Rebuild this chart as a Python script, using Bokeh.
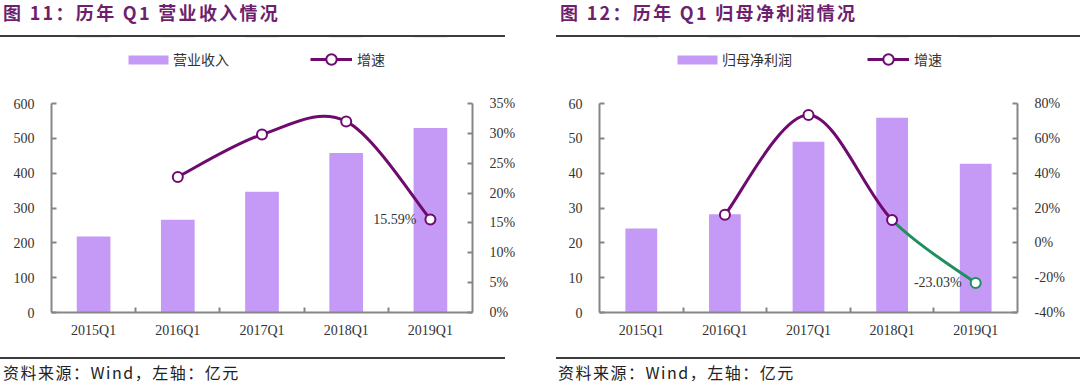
from bokeh.plotting import figure
from bokeh.models import (Range1d, LinearAxis, SingleIntervalTicker, FixedTicker,
                          PrintfTickFormatter, Legend, LegendItem, Div, ColumnDataSource)
from bokeh.layouts import row, column
from bokeh.core.properties import value
from bokeh.embed import file_html
from bokeh.resources import INLINE

# ---------------- data ----------------
quarters = ["2015Q1", "2016Q1", "2017Q1", "2018Q1", "2019Q1"]
revenue = [218, 266, 347, 458, 530]                 # 营业收入 (亿元)
revenue_growth = [None, 22.7, 29.8, 32.0, 15.59]    # 增速 (%)
profit = [24.1, 28.2, 49.0, 55.9, 42.7]             # 归母净利润 (亿元)
profit_growth = [None, 16.1, 73.4, 13.1, -23.03]    # 增速 (%)

# ---------------- styles ----------------
BAR = "#C49AF6"
PURPLE = "#6f0a6f"
GREEN = "#1f8f5f"
AXIS = "#868686"
TXT = "#333333"
TITLE_C = "#6e1f6e"
RULE = "#3c3c3c"
SERIF = "Liberation Serif"
CJK = "Noto Sans CJK SC"
PANEL_W = 540


def smooth_segments(ys):
    pts = [(i, y) for i, y in enumerate(ys) if y is not None]
    n = len(pts)
    seg = dict(x0=[], y0=[], x1=[], y1=[], cx0=[], cy0=[], cx1=[], cy1=[])
    for i in range(n - 1):
        p0 = pts[max(i - 1, 0)]
        p1 = pts[i]
        p2 = pts[i + 1]
        p3 = pts[min(i + 2, n - 1)]
        seg["x0"].append(p1[0]); seg["y0"].append(p1[1])
        seg["x1"].append(p2[0]); seg["y1"].append(p2[1])
        seg["cx0"].append(p1[0] + (p2[0] - p0[0]) / 6.0)
        seg["cy0"].append(p1[1] + (p2[1] - p0[1]) / 6.0)
        seg["cx1"].append(p2[0] - (p3[0] - p1[0]) / 6.0)
        seg["cy1"].append(p2[1] - (p3[1] - p1[1]) / 6.0)
    return seg


def slice_seg(seg, a, b):
    return {k: v[a:b] for k, v in seg.items()}


def style_axis(ax):
    ax.axis_line_color = AXIS
    ax.axis_line_width = 2
    ax.major_tick_line_color = AXIS
    ax.major_tick_line_width = 2
    ax.major_tick_in = 5
    ax.major_tick_out = 0
    ax.minor_tick_line_color = None
    ax.major_label_text_font = SERIF
    ax.major_label_text_font_size = "14px"
    ax.major_label_text_color = TXT
    ax.major_label_standoff = 13


def make_fig(bars, growth, y_end, y_step, g_start, g_end, g_step, bar_w,
             border_l, border_r, green_last):
    n = len(quarters)
    p = figure(width=PANEL_W, height=272, x_range=Range1d(-0.5, n - 0.5),
               y_range=Range1d(0, y_end), output_backend="svg",
               toolbar_location=None, min_border_left=border_l,
               min_border_right=border_r, min_border_top=18,
               min_border_bottom=45, outline_line_color=None,
               background_fill_color="white", border_fill_color="white")
    p.extra_y_ranges = {"g": Range1d(g_start, g_end)}
    p.xgrid.visible = False
    p.ygrid.visible = False

    yax = p.yaxis[0]
    yax.ticker = SingleIntervalTicker(interval=y_step)
    style_axis(yax)
    rax = LinearAxis(y_range_name="g", ticker=SingleIntervalTicker(interval=g_step),
                     formatter=PrintfTickFormatter(format="%d%%"))
    style_axis(rax)
    p.add_layout(rax, "right")
    xax = p.xaxis[0]
    style_axis(xax)
    xax.ticker = FixedTicker(ticks=list(range(n)),
                             minor_ticks=[i + 0.5 for i in range(n - 1)])
    xax.major_tick_line_color = None
    xax.minor_tick_line_color = AXIS
    xax.minor_tick_line_width = 2
    xax.minor_tick_in = 5
    xax.minor_tick_out = 0
    xax.major_label_overrides = {i: q for i, q in enumerate(quarters)}
    xax.major_label_standoff = 10

    src = ColumnDataSource(dict(x=list(range(n)), top=bars))
    p.vbar(x="x", top="top", width=bar_w, bottom=0, source=src,
           fill_color=BAR, line_color=None)

    seg = smooth_segments(growth)
    gx = [i for i, g in enumerate(growth) if g is not None]
    gy = [g for g in growth if g is not None]
    ns = len(seg["x0"])
    if green_last:
        p.bezier(**slice_seg(seg, 0, ns - 1), line_color=PURPLE,
                 line_width=3, y_range_name="g")
        p.bezier(**slice_seg(seg, ns - 1, ns), line_color=GREEN,
                 line_width=3, y_range_name="g")
        p.scatter(x=gx[:-1], y=gy[:-1], size=10, fill_color="white",
                  line_color=PURPLE, line_width=2, y_range_name="g")
        p.scatter(x=gx[-1:], y=gy[-1:], size=10, fill_color="white",
                  line_color=GREEN, line_width=2, y_range_name="g")
    else:
        p.bezier(**seg, line_color=PURPLE, line_width=3, y_range_name="g")
        p.scatter(x=gx, y=gy, size=10, fill_color="white",
                  line_color=PURPLE, line_width=2, y_range_name="g")

    p.text(x=gx[-1:], y=gy[-1:], text=[f"{gy[-1]:.2f}%"], y_range_name="g",
           text_align="right", text_baseline="middle", x_offset=-14,
           text_font=value(SERIF), text_font_size="14px", text_color=TXT)
    return p


def legend_fig(bars, growth, bar_label, leg1_x, leg2_x):
    """Legend strip; its renderers carry the series but sit outside the
    visible (offscreen) y range, so only the legend glyphs show."""
    h = 48
    n = len(quarters)
    p = figure(width=PANEL_W, height=h, x_range=Range1d(-0.5, n - 0.5),
               y_range=Range1d(-2000, -1952), output_backend="svg",
               toolbar_location=None, min_border=0, x_axis_type=None,
               y_axis_type=None, outline_line_color=None,
               background_fill_color="white", border_fill_color="white")
    p.xgrid.visible = False
    p.ygrid.visible = False
    gx = [i for i, g in enumerate(growth) if g is not None]
    gy = [g for g in growth if g is not None]
    bar_r = p.vbar(x=list(range(n)), top=bars, width=0.4, fill_color=BAR,
                   line_color=None)
    line_r = p.line(x=gx, y=gy, line_color=PURPLE, line_width=3)
    sc_r = p.scatter(x=gx, y=gy, fill_color="white", line_color=PURPLE,
                     line_width=2)
    common = dict(orientation="horizontal", label_height=11, padding=0,
                  margin=0, spacing=0, border_line_color=None,
                  background_fill_alpha=0, label_text_font=CJK,
                  label_text_font_size="14px", label_text_color=TXT)
    leg1 = Legend(items=[LegendItem(label=bar_label, renderers=[bar_r])],
                  location=(leg1_x, 16), glyph_width=50, glyph_height=11,
                  label_standoff=0, **common)
    leg2 = Legend(items=[LegendItem(label="增速", renderers=[line_r, sc_r])],
                  location=(leg2_x, 13), glyph_width=42, glyph_height=26,
                  label_standoff=5, **common)
    p.add_layout(leg1, "center")
    p.add_layout(leg2, "center")
    return p


def text_div(text, left, height, size, bold, color, spacing, line_h):
    weight = "700" if bold else "400"
    html = (f'<div style="padding-left:{left}px;font-family:\'{CJK}\';'
            f'font-weight:{weight};font-size:{size}px;letter-spacing:{spacing}px;'
            f'color:{color};line-height:{line_h}px;white-space:nowrap;">{text}</div>')
    return Div(text=html, width=PANEL_W, height=height, margin=(0, 0, 0, 0))


def rule_div(left, width):
    return Div(text="", width=width, height=2, margin=(0, 0, 0, left),
               styles={"background-color": RULE})


p1 = make_fig(revenue, revenue_growth, 600, 100, 0, 35, 5, 0.4, 51, 68, False)
p2 = make_fig(profit, profit_growth, 60, 10, -40, 80, 20, 0.38, 59, 63, True)

# legend x positions are relative to the (column-aligned) plot frame
left = column(
    text_div("图 11：历年 Q1 营业收入情况", 3, 35, 18, True, TITLE_C, 2.3, 25),
    rule_div(0, 505),
    legend_fig(revenue, revenue_growth, "营业收入", 72, 259),
    p1,
    rule_div(0, 505),
    text_div("资料来源：Wind，左轴：亿元", 3, 26, 16, False, "#222222", 1.5, 26),
    spacing=0, margin=(0, 0, 0, 0))
right = column(
    text_div("图 12：历年 Q1 归母净利润情况", 20, 35, 18, True, TITLE_C, 2.3, 25),
    rule_div(16, 524),
    legend_fig(profit, profit_growth, "归母净利润", 73, 268),
    p2,
    rule_div(16, 524),
    text_div("资料来源：Wind，左轴：亿元", 18, 26, 16, False, "#222222", 1.5, 26),
    spacing=0, margin=(0, 0, 0, 0))
layout = row(left, right, spacing=0, margin=(0, 0, 0, 0))

open("out.html", "w").write(file_html(layout, INLINE))
